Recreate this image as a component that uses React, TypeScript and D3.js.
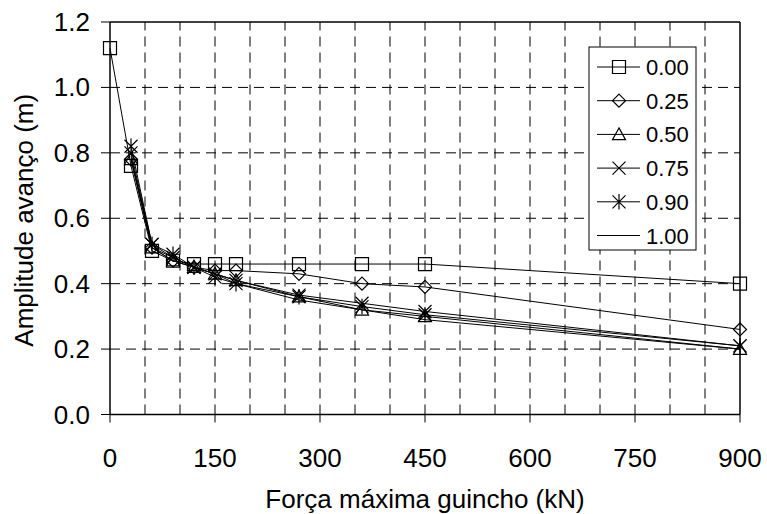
import React from "react";
import * as d3 from "d3";

const forces = [0, 30, 60, 90, 120, 150, 180, 270, 360, 450, 900];
const s000 = [1.12, 0.76, 0.5, 0.47, 0.46, 0.46, 0.46, 0.46, 0.46, 0.46, 0.4];
const s025 = [null, 0.78, 0.51, 0.47, 0.45, 0.44, 0.44, 0.43, 0.4, 0.39, 0.26];
const s050 = [null, 0.78, 0.51, 0.47, 0.45, 0.43, 0.41, 0.36, 0.32, 0.3, 0.2];
const s075 = [null, 0.8, 0.52, 0.48, 0.45, 0.43, 0.41, 0.365, 0.34, 0.315, 0.21];
const s090 = [null, 0.82, 0.52, 0.49, 0.45, 0.42, 0.4, 0.36, 0.33, 0.305, 0.21];
const s100 = [null, 0.79, 0.51, 0.48, 0.45, 0.43, 0.4, 0.35, 0.32, 0.29, 0.2];
const seriesNames = ["0.00", "0.25", "0.50", "0.75", "0.90", "1.00"];
const seriesMarkers = ["square", "diamond", "triangle", "x", "star", "none"];
const seriesValues = [s000, s025, s050, s075, s090, s100];
const xTicks = [0, 150, 300, 450, 600, 750, 900];
const yTicks = [0, 0.2, 0.4, 0.6, 0.8, 1.0, 1.2];
const xGrid = d3.range(50, 900, 50);

const W = 767, H = 514;
const M = { left: 110, top: 22, right: 27, bottom: 99.5 };
const FONT = "Liberation Sans, Arial, sans-serif";

function markerPath(kind: string, cx: number, cy: number): string {
  const r = 6.5;
  switch (kind) {
    case "square":
      return `M${cx - r},${cy - r}H${cx + r}V${cy + r}H${cx - r}Z`;
    case "diamond":
      return `M${cx},${cy - r}L${cx + r},${cy}L${cx},${cy + r}L${cx - r},${cy}Z`;
    case "triangle":
      return `M${cx},${cy - r}L${cx + r},${cy + r * 0.8}L${cx - r},${cy + r * 0.8}Z`;
    case "x":
      return `M${cx - r},${cy - r}L${cx + r},${cy + r}M${cx - r},${cy + r}L${cx + r},${cy - r}`;
    case "star":
      return `M${cx - r},${cy - r}L${cx + r},${cy + r}M${cx - r},${cy + r}L${cx + r},${cy - r}M${cx},${cy - r * 1.2}V${cy + r * 1.2}`;
    default:
      return "";
  }
}

export default function App() {
  const x = d3.scaleLinear().domain([0, 900]).range([M.left, W - M.right]);
  const y = d3.scaleLinear().domain([0, 1.2]).range([H - M.bottom, M.top]);
  const line = d3
    .line<[number, number | null]>()
    .defined((d) => d[1] != null)
    .x((d) => x(d[0]))
    .y((d) => y(d[1] as number));

  const x0 = M.left, x1 = W - M.right, y0 = H - M.bottom, y1 = M.top;

  const legX = 589, legY = 47, legW = 107, legH = 203, legStep = 33.7;

  return (
    <svg width={W} height={H} style={{ position: "absolute", left: 0, top: 0, background: "#fff" }} fontFamily={FONT}>
      {/* grid */}
      {xGrid.map((v) => (
        <line key={"gx" + v} x1={x(v)} x2={x(v)} y1={y0} y2={y1} stroke="#000" strokeWidth={1} strokeDasharray="10,6" />
      ))}
      {yTicks.slice(1, -1).map((v) => (
        <line key={"gy" + v} x1={x0} x2={x1} y1={y(v)} y2={y(v)} stroke="#000" strokeWidth={1} strokeDasharray="10,6" />
      ))}
      {/* frame */}
      <line x1={x0} x2={x1} y1={y1} y2={y1} stroke="#000" strokeWidth={1.5} />
      <line x1={x1} x2={x1} y1={y1} y2={y0} stroke="#000" strokeWidth={1.5} />
      <line x1={x0} x2={x0} y1={y1} y2={y0} stroke="#000" strokeWidth={1.5} />
      <line x1={x0} x2={x1} y1={y0} y2={y0} stroke="#000" strokeWidth={1.5} />
      {/* ticks */}
      {xTicks.map((v) => (
        <g key={"xt" + v}>
          <line x1={x(v)} x2={x(v)} y1={y0} y2={y0 + 8} stroke="#000" />
          <text x={x(v)} y={y0 + 52} textAnchor="middle" fontSize={26}>{v}</text>
        </g>
      ))}
      {yTicks.map((v) => (
        <g key={"yt" + v}>
          <line x1={x0 - 9} x2={x0} y1={y(v)} y2={y(v)} stroke="#000" />
          <text x={x0 - 20} y={y(v) + 9} textAnchor="end" fontSize={26}>{v.toFixed(1)}</text>
        </g>
      ))}
      {/* axis titles */}
      <text x={(x0 + x1) / 2} y={H - 6} textAnchor="middle" fontSize={26}>Força máxima guincho (kN)</text>
      <text transform={`translate(33,${(y0 + y1) / 2 + 2}) rotate(-90)`} textAnchor="middle" fontSize={26}>Amplitude avanço (m)</text>
      {/* series */}
      {seriesValues.map((vals, i) => {
        const pts = forces.map((f, j) => [f, vals[j]] as [number, number | null]);
        return (
          <g key={"s" + i}>
            <path d={line(pts) || ""} fill="none" stroke="#000" strokeWidth={1} />
            {pts
              .filter((p) => p[1] != null)
              .map((p, j) => (
                <path key={j} d={markerPath(seriesMarkers[i], x(p[0]), y(p[1] as number))} fill="none" stroke="#000" strokeWidth={1.2} />
              ))}
          </g>
        );
      })}
      {/* legend */}
      <rect x={legX} y={legY} width={legW} height={legH} fill="#fff" stroke="#000" strokeWidth={1} />
      {seriesNames.map((n, i) => {
        const cy = legY + 20 + i * legStep;
        return (
          <g key={"l" + i}>
            <line x1={legX + 8} x2={legX + 51} y1={cy} y2={cy} stroke="#000" />
            <path d={markerPath(seriesMarkers[i], legX + 30, cy)} fill="none" stroke="#000" strokeWidth={1.2} />
            <text x={legX + 57} y={cy + 8} fontSize={22}>{n}</text>
          </g>
        );
      })}
    </svg>
  );
}
